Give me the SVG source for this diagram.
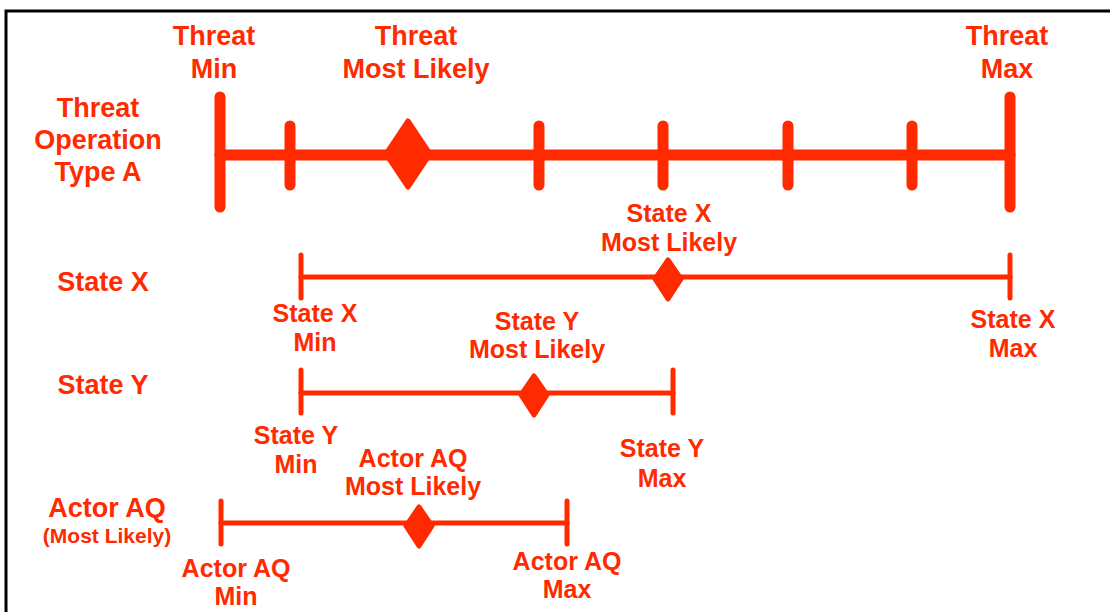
<svg xmlns="http://www.w3.org/2000/svg" width="1110" height="612" viewBox="0 0 1110 612">
<style>
  text { font-family: "Liberation Sans", Arial, sans-serif; font-weight: bold; fill: #FF2A00; text-anchor: middle; }
  .big { font-size: 27px; }
  .sub { font-size: 25px; }
  .small { font-size: 21px; }
  .thick { stroke: #FF2A00; stroke-width: 11; stroke-linecap: round; fill: none; }
  .thin { stroke: #FF2A00; stroke-width: 5; stroke-linecap: round; fill: none; }
  .dia { fill: #FF2A00; stroke: #FF2A00; stroke-width: 5; stroke-linejoin: round; }
  .frame { stroke: #000; stroke-width: 3; fill: none; }
</style>
<rect width="1110" height="612" fill="#fff"/>
<path class="frame" d="M6,612 V11 H1110"/>

<g id="threat-row">
  <text class="big" x="98" y="117">Threat</text>
  <text class="big" x="98" y="149">Operation</text>
  <text class="big" x="98" y="181">Type A</text>
</g>
<g id="threat-line">
  <line class="thick" x1="220" y1="155" x2="1010" y2="155"/>
  <line class="thick" x1="220" y1="97" x2="220" y2="207"/>
  <line class="thick" x1="1010" y1="97" x2="1010" y2="207"/>
  <line class="thick" x1="290" y1="126" x2="290" y2="185"/>
  <line class="thick" x1="539" y1="126" x2="539" y2="185"/>
  <line class="thick" x1="663" y1="126" x2="663" y2="185"/>
  <line class="thick" x1="788" y1="126" x2="788" y2="185"/>
  <line class="thick" x1="912" y1="126" x2="912" y2="185"/>
  <polygon class="dia" points="408,121 430,154 408,187 386,154"/>
</g>
<g id="threat-min"><text class="big" x="214" y="45">Threat</text><text class="big" x="214" y="78">Min</text></g>
<g id="threat-ml"><text class="big" x="416" y="45">Threat</text><text class="big" x="416" y="78">Most Likely</text></g>
<g id="threat-max"><text class="big" x="1007" y="45">Threat</text><text class="big" x="1007" y="78">Max</text></g>

<g id="state-x-row"><text class="big" x="103" y="291">State X</text></g>
<g id="state-x-line">
  <line class="thin" x1="301" y1="277" x2="1010" y2="277"/>
  <line class="thin" x1="301" y1="255" x2="301" y2="298"/>
  <line class="thin" x1="1010" y1="255" x2="1010" y2="298"/>
  <polygon class="dia" points="668,260 681,279 668,299 655,279"/>
</g>
<g id="state-x-ml"><text class="sub" x="669" y="222">State X</text><text class="sub" x="669" y="251">Most Likely</text></g>
<g id="state-x-min"><text class="sub" x="315" y="322">State X</text><text class="sub" x="315" y="351">Min</text></g>
<g id="state-x-max"><text class="sub" x="1013" y="328">State X</text><text class="sub" x="1013" y="357">Max</text></g>

<g id="state-y-row"><text class="big" x="103" y="394">State Y</text></g>
<g id="state-y-line">
  <line class="thin" x1="301" y1="393" x2="673" y2="393"/>
  <line class="thin" x1="301" y1="370" x2="301" y2="413"/>
  <line class="thin" x1="673" y1="370" x2="673" y2="413"/>
  <polygon class="dia" points="534,376 547,395 534,415 521,395"/>
</g>
<g id="state-y-ml"><text class="sub" x="537" y="330">State Y</text><text class="sub" x="537" y="358">Most Likely</text></g>
<g id="state-y-min"><text class="sub" x="296" y="444">State Y</text><text class="sub" x="296" y="473">Min</text></g>
<g id="state-y-max"><text class="sub" x="662" y="457">State Y</text><text class="sub" x="662" y="487">Max</text></g>

<g id="actor-row"><text class="big" x="107" y="517">Actor AQ</text><text class="small" x="107" y="543">(Most Likely)</text></g>
<g id="actor-line">
  <line class="thin" x1="221" y1="523" x2="567" y2="523"/>
  <line class="thin" x1="221" y1="501" x2="221" y2="544"/>
  <line class="thin" x1="567" y1="501" x2="567" y2="544"/>
  <polygon class="dia" points="419,507 432,526 419,546 406,526"/>
</g>
<g id="actor-ml"><text class="sub" x="413" y="467">Actor AQ</text><text class="sub" x="413" y="495">Most Likely</text></g>
<g id="actor-min"><text class="sub" x="236" y="577">Actor AQ</text><text class="sub" x="236" y="605">Min</text></g>
<g id="actor-max"><text class="sub" x="567" y="570">Actor AQ</text><text class="sub" x="567" y="598">Max</text></g>
</svg>
